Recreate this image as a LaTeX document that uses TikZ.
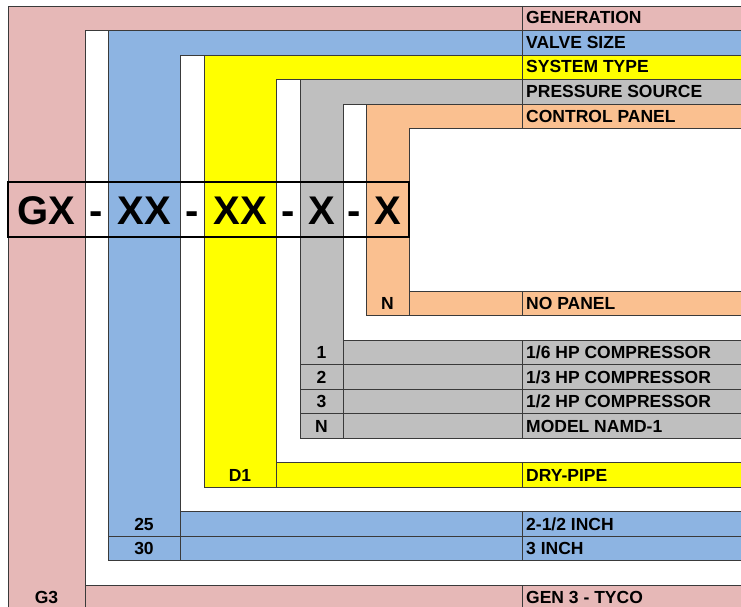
\documentclass[tikz,border=0pt]{standalone}
\usepackage{fontspec}
\setmainfont{Liberation Sans}
\usepackage{xcolor}
\definecolor{genpink}{HTML}{E6B8B7}
\definecolor{valveblue}{HTML}{8DB4E2}
\definecolor{typeyellow}{HTML}{FFFF00}
\definecolor{sourcegray}{HTML}{BFBFBF}
\definecolor{panelorange}{HTML}{FAC090}
\definecolor{gridgray}{HTML}{3A3A3A}
\usepackage{tikz}
\usetikzlibrary{positioning}

\begin{document}
\begin{tikzpicture}[x=1pt, y=-1pt,
  band/.style={draw=gridgray, line width=0.9pt},
  lbl/.style={anchor=base west, inner sep=0pt, font=\fontsize{17.5}{17.5}\selectfont\bfseries},
  digit/.style={anchor=base, inner sep=0pt, font=\fontsize{17.5}{17.5}\selectfont\bfseries},
  bigcode/.style={anchor=base, inner sep=0pt, font=\fontsize{40}{40}\selectfont\bfseries}]
  \useasboundingbox (0,0) rectangle (741,607);
  \clip (0,0) rectangle (741,607);
  % nested bands, outside in
  \foreach \x/\t/\b/\c in {8/6/640/genpink, 85/30.5/585/white, 108/30.5/560.5/valveblue,
      180/55/511.5/white, 204/55/487/typeyellow, 276/79.5/462.5/white,
      300/79.5/438/sourcegray, 343/104/340/white, 366/104/315.5/panelorange, 409/128.5/291/white}
    \draw[band, fill=\c] (\x,\t) rectangle (760,\b);
  % row rules inside the lower bands
  \foreach \x/\y in {300/364.5, 300/389, 300/413.5, 108/536}
    \draw[band] (\x,\y) -- (760,\y);
  % key column dividers
  \foreach \x/\t/\b in {85/585/640, 180/511.5/560.5, 276/462.5/487, 343/340/438, 409/291/315.5}
    \draw[band] (\x,\t) -- (\x,\b);
  % description column divider
  \foreach \t/\b in {6/128.5, 291/315.5, 340/438, 462.5/487, 511.5/560.5, 585/640}
    \draw[band] (522,\t) -- (522,\b);
  % descriptions
  \foreach \y/\t [count=\n] in {24/GENERATION, 48.5/VALVE SIZE, 73/SYSTEM TYPE,
      97.5/PRESSURE SOURCE, 122/CONTROL PANEL, 309.5/NO PANEL,
      358.5/{1/6 HP COMPRESSOR}, 383/{1/3 HP COMPRESSOR}, 407.5/{1/2 HP COMPRESSOR},
      432/MODEL NAMD-1, 481/DRY-PIPE, 530/{2-1/2 INCH}, 554.5/3 INCH, 603.5/GEN 3 - TYCO}
    \node[lbl] (desc\n) at (526,\y) {\t};
  % keys
  \foreach \x/\y/\k [count=\n] in {387.5/309.5/N, 321.5/358.5/1, 321.5/383/2, 321.5/407.5/3,
      321.5/432/N, 240/481/D1, 144/530/25, 144/554.5/30, 46.5/603.5/G3}
    \node[digit] (key\n) at (\x,\y) {\k};
  % model code row
  \draw[line width=2pt] (8,182) rectangle (409,237);
  \foreach \x/\p [count=\n] in {46.5/GX, 96.5/-, 144/XX, 192/-, 240/XX, 288/-, 321.5/X, 354.5/-, 387.5/X}
    \node[bigcode] (part\n) at (\x,224.5) {\p};
\end{tikzpicture}
\end{document}
